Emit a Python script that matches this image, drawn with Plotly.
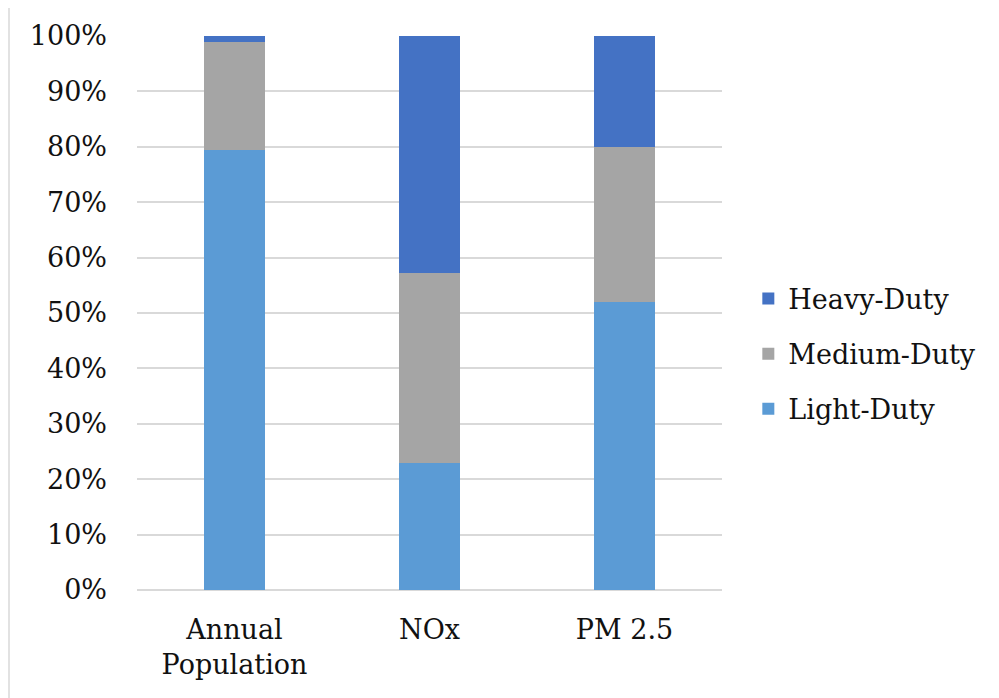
import plotly.graph_objects as go

categories = ["Annual<br>Population", "NOx", "PM 2.5"]
light_duty = [79.5, 22.9, 52.0]
medium_duty = [19.4, 34.3, 28.0]
heavy_duty = [1.1, 42.8, 20.0]

series = [
    ("Light-Duty", light_duty, "#5B9BD5", 3),
    ("Medium-Duty", medium_duty, "#A5A5A5", 2),
    ("Heavy-Duty", heavy_duty, "#4472C4", 1),
]

FONT = "DejaVu Serif"
OFF = 8  # page body margin

fig = go.Figure()
for name, vals, color, rank in series:
    fig.add_trace(go.Bar(
        x=categories, y=vals, name=name, legendgroup=name, legendrank=rank,
        marker=dict(color=color, line=dict(width=0)),
    ))

fig.update_layout(
    barmode="stack",
    bargap=0.687,
    width=999 - OFF, height=698 - OFF,
    margin=dict(l=137 - OFF, r=277, t=36 - OFF, b=108),
    paper_bgcolor="white", plot_bgcolor="white",
    font=dict(family=FONT, size=27, color="#111111"),
    legend=dict(
        x=1.045, y=0.426, xanchor="left", yanchor="middle",
        traceorder="grouped", tracegroupgap=17,
        font=dict(family=FONT, size=27, color="#111111"),
        bgcolor="rgba(0,0,0,0)",
    ),
    showlegend=True,
)
fig.update_yaxes(
    range=[0, 100], dtick=10, ticksuffix="%",
    showgrid=True, gridcolor="#d9d9d9", gridwidth=1.5,
    zeroline=True, zerolinecolor="#d9d9d9", zerolinewidth=1.5,
    showline=False, ticks="", ticklabelstandoff=29,
    tickfont=dict(family=FONT, size=27, color="#111111"),
)
fig.update_xaxes(
    showline=False, ticks="", ticklabelstandoff=21,
    tickfont=dict(family=FONT, size=27, color="#111111"),
)
fig.add_shape(
    type="rect", xref="paper", yref="paper",
    x0=(9 - 137) / 585, x1=1.5, y0=-0.4, y1=1 + (36 - 4) / 554,
    line=dict(color="#d9d9d9", width=1.5), fillcolor="rgba(0,0,0,0)", layer="below",
)

fig.write_html("out.html")
